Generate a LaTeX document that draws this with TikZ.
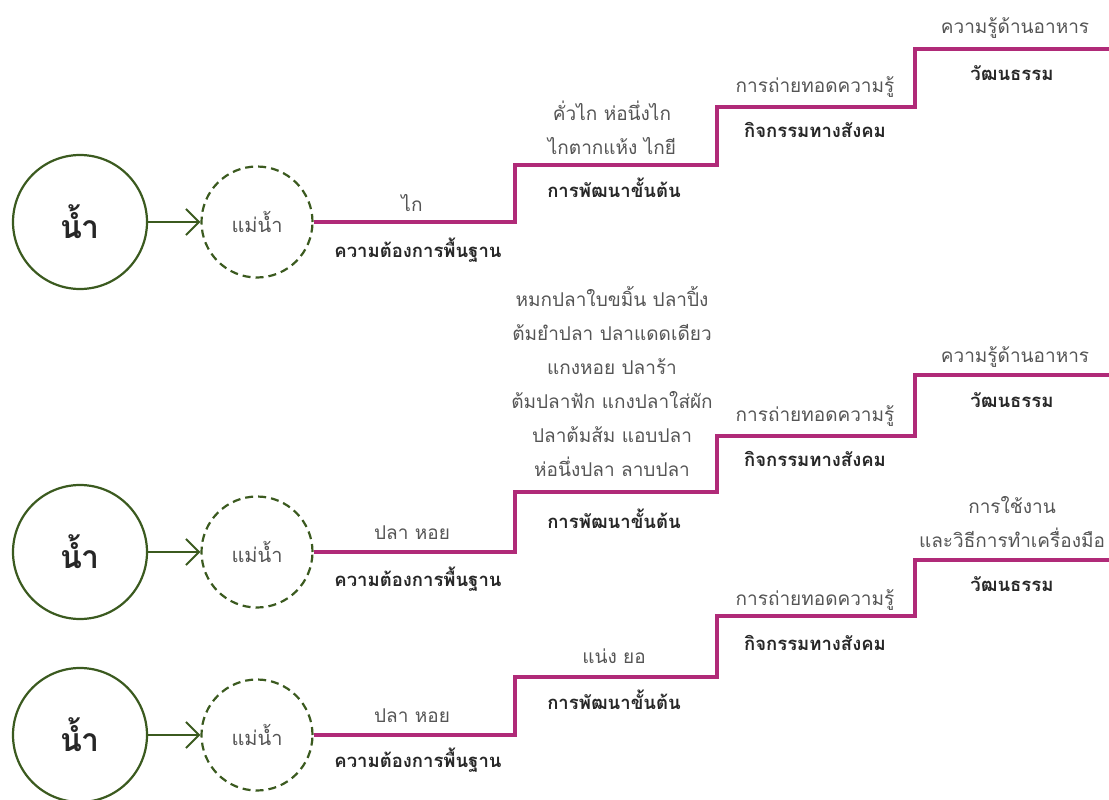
\documentclass[tikz,border=0pt]{standalone}
\usepackage{fontspec}
\newfontfamily\thaifont[Script=Thai]{Loma}
\usepackage{tikz}
\usetikzlibrary{arrows.meta,positioning}
\definecolor{leaf}{HTML}{3B5A1F}
\definecolor{plum}{HTML}{B02A78}
\definecolor{ink}{HTML}{555555}
\tikzset{
  water/.style={circle,draw=leaf,line width=2.2pt,minimum size=134pt,inner sep=0pt,
    font=\thaifont\fontsize{32}{34}\bfseries\selectfont,text=black!85},
  river/.style={circle,draw=leaf,line width=2.2pt,dash pattern=on 8pt off 5pt,
    minimum size=111pt,inner sep=0pt,font=\thaifont\fontsize{20}{22}\selectfont,text=ink},
  flow/.style={draw=leaf,line width=2pt,-{Straight Barb[length=13pt,width=26pt,line width=2pt]}},
  stair/.style={draw=plum,line width=3.6pt,line join=miter},
  thin/.style={font=\thaifont\fontsize{19}{34}\selectfont,text=ink,align=center,inner sep=0pt},
  heavy/.style={font=\thaifont\fontsize{18.5}{20}\bfseries\selectfont,text=black!85,inner sep=0pt}
}
\begin{document}
\begin{tikzpicture}[x=1pt,y=-1pt]
\useasboundingbox (0,0) rectangle (1109,800);
% row one
\node[water](w1) at (80,222) {น้ำ};
\node[river](r1) at (257,222) {แม่น้ำ};
\draw[flow](w1)--(r1);
\coordinate (s1a) at (515,165);
\coordinate (s1b) at (717,107);
\coordinate (s1c) at (915,49);
\coordinate (e1) at (1112,49);
\draw[stair](r1.east)-|(s1a)-|(s1b)-|(s1c)--(e1);
\node[thin](n1a) at (412,203) {ไก};
\node[heavy](h1a) at (418,250) {ความต้องการพื้นฐาน};
\node[thin](n1b) at (612,128) {คั่วไก ห่อนึ่งไก\\ไกตากแห้ง ไกยี};
\node[heavy](h1b) at (614,188) {การพัฒนาขั้นต้น};
\node[thin](n1c) at (815,87) {การถ่ายทอดความรู้};
\node[heavy](h1c) at (815,130) {กิจกรรมทางสังคม};
\node[thin](n1d) at (1015,28) {ความรู้ด้านอาหาร};
\node[heavy](h1d) at (1012,73) {วัฒนธรรม};
% row two
\node[water](w2) at (80,552) {น้ำ};
\node[river](r2) at (257,552) {แม่น้ำ};
\draw[flow](w2)--(r2);
\coordinate (s2a) at (515,492);
\coordinate (s2b) at (717,436);
\coordinate (s2c) at (915,375);
\coordinate (e2) at (1112,375);
\draw[stair](r2.east)-|(s2a)-|(s2b)-|(s2c)--(e2);
\node[thin](n2a) at (412,533) {ปลา หอย};
\node[heavy](h2a) at (418,579) {ความต้องการพื้นฐาน};
\node[thin](n2b) at (612,381) {หมกปลาใบขมิ้น ปลาปิ้ง\\ต้มยำปลา ปลาแดดเดียว\\แกงหอย ปลาร้า\\ต้มปลาฟัก แกงปลาใส่ผัก\\ปลาต้มส้ม แอบปลา\\ห่อนึ่งปลา ลาบปลา};
\node[heavy](h2b) at (614,519) {การพัฒนาขั้นต้น};
\node[thin](n2c) at (815,416) {การถ่ายทอดความรู้};
\node[heavy](h2c) at (815,459) {กิจกรรมทางสังคม};
\node[thin](n2d) at (1015,357) {ความรู้ด้านอาหาร};
\node[heavy](h2d) at (1012,400) {วัฒนธรรม};
% row three
\node[water](w3) at (80,735) {น้ำ};
\node[river](r3) at (257,735) {แม่น้ำ};
\draw[flow](w3)--(r3);
\coordinate (s3a) at (515,677);
\coordinate (s3b) at (717,616);
\coordinate (s3c) at (915,560);
\coordinate (e3) at (1112,560);
\draw[stair](r3.east)-|(s3a)-|(s3b)-|(s3c)--(e3);
\node[thin](n3a) at (412,716) {ปลา หอย};
\node[heavy](h3a) at (418,760) {ความต้องการพื้นฐาน};
\node[thin](n3b) at (614,656) {แน่ง ยอ};
\node[heavy](h3b) at (614,700) {การพัฒนาขั้นต้น};
\node[thin](n3c) at (815,600) {การถ่ายทอดความรู้};
\node[heavy](h3c) at (815,643) {กิจกรรมทางสังคม};
\node[thin](n3d) at (1012,522) {การใช้งาน\\และวิธีการทำเครื่องมือ};
\node[heavy](h3d) at (1012,584) {วัฒนธรรม};
\end{tikzpicture}
\end{document}
